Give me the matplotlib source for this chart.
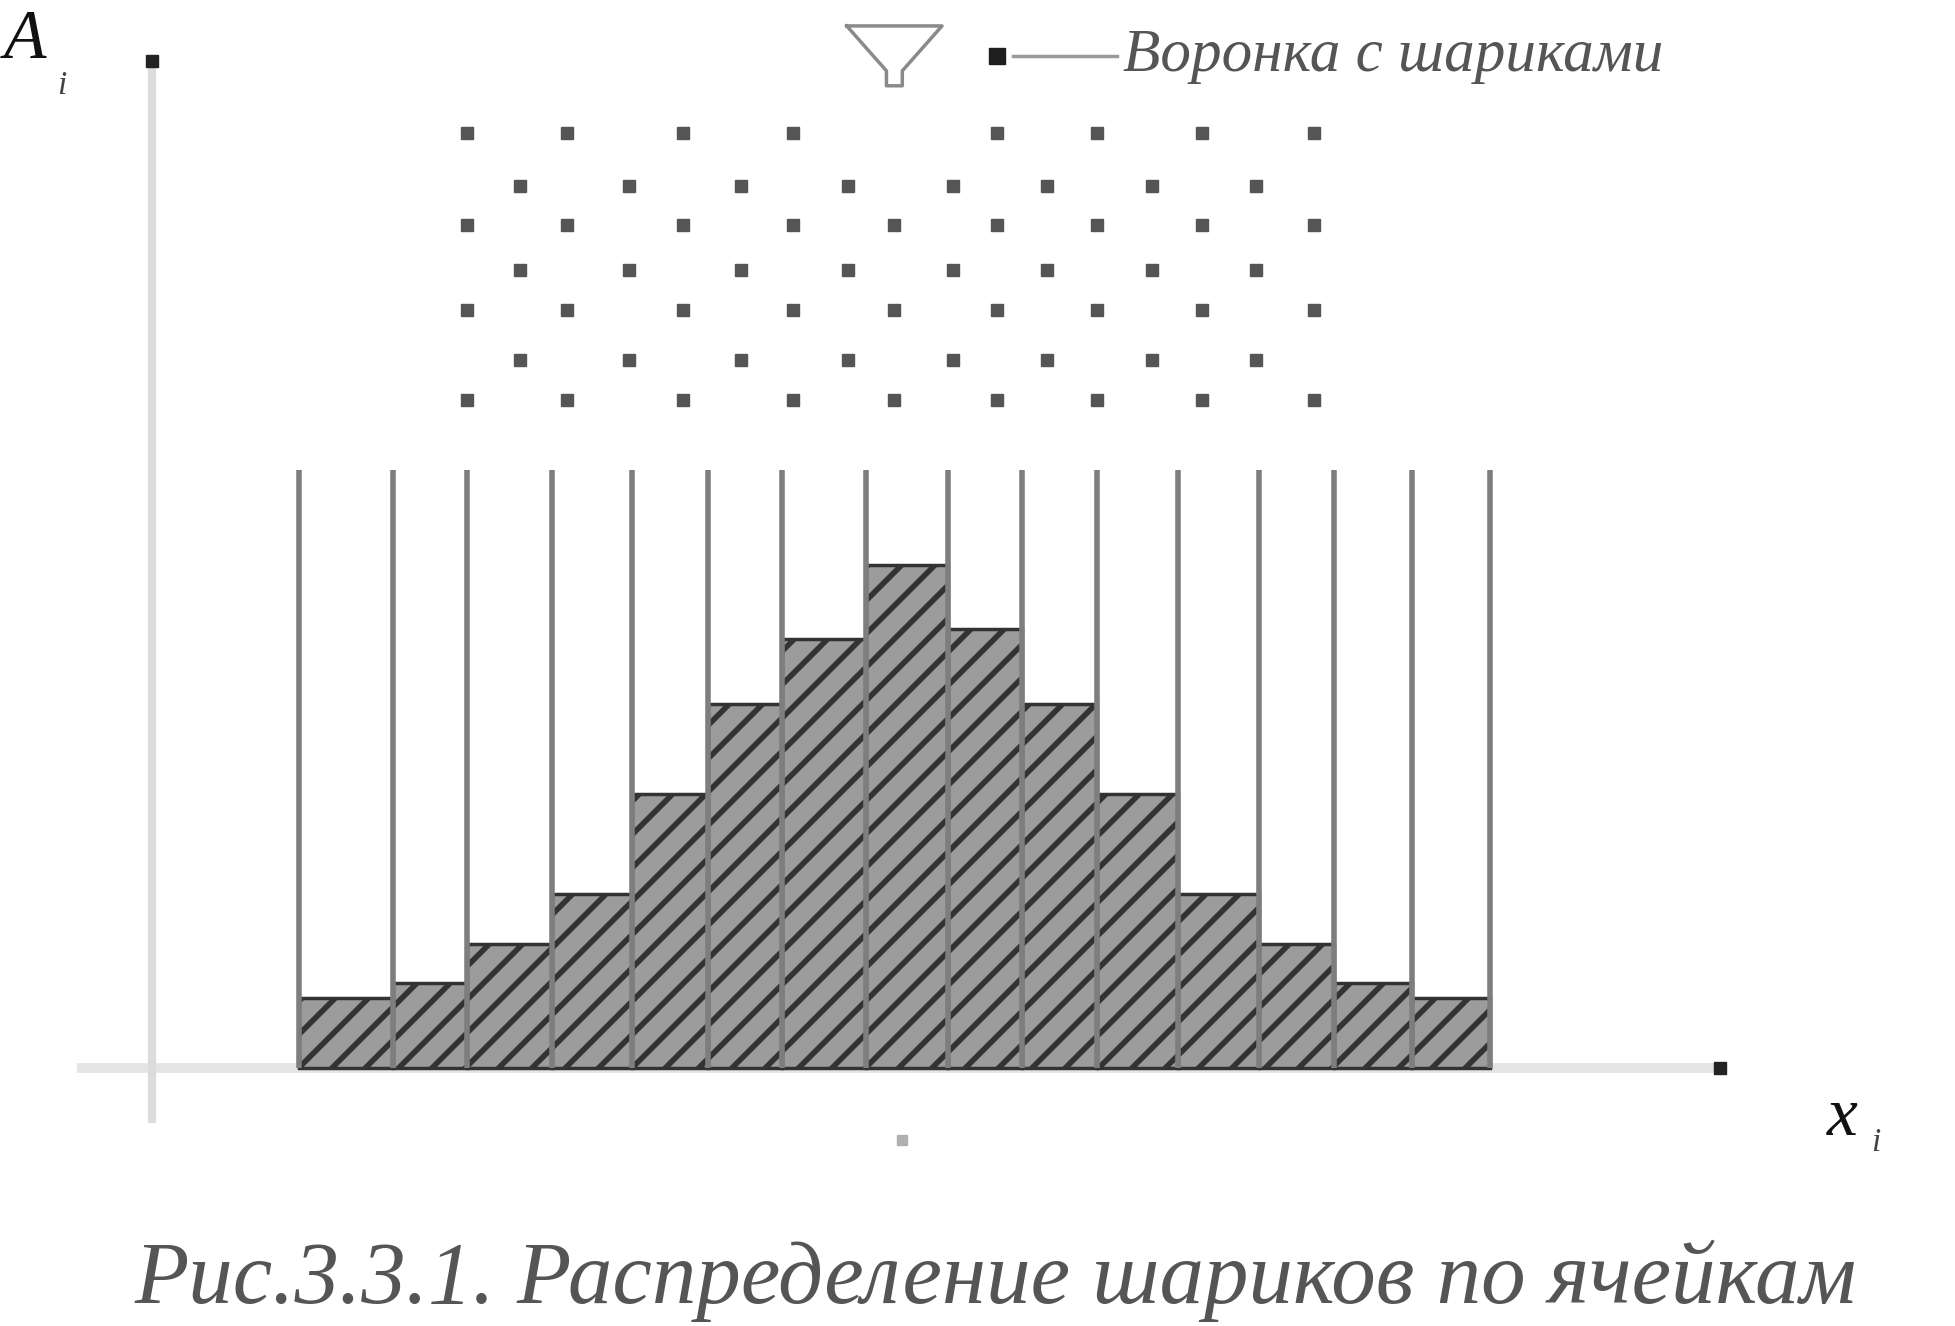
import numpy as np
import matplotlib
matplotlib.use("Agg")
from matplotlib import pyplot as plt

# bin walls (x positions) and ball counts per bin
edges = [0.0, 1.18, 2.12, 3.19, 4.19, 5.15, 6.09, 7.14, 8.17, 9.11, 10.05, 11.07, 12.09, 13.04, 14.02, 15.0]
counts = [14, 17, 25, 35, 55, 73, 86, 101, 88, 73, 55, 35, 25, 17, 14]
wall_height = 120

# peg rows (top to bottom)
peg_rows_y = [187.5, 177, 169, 160, 152, 142, 134]
peg_rows_x = [
    [2.12, 3.38, 4.84, 6.22, 8.79, 10.05, 11.38, 12.79],
    [2.79, 4.16, 5.57, 6.91, 8.24, 9.42, 10.75, 12.06],
    [2.12, 3.38, 4.84, 6.22, 7.50, 8.79, 10.05, 11.38, 12.79],
    [2.79, 4.16, 5.57, 6.91, 8.24, 9.42, 10.75, 12.06],
    [2.12, 3.38, 4.84, 6.22, 7.50, 8.79, 10.05, 11.38, 12.79],
    [2.79, 4.16, 5.57, 6.91, 8.24, 9.42, 10.75, 12.06],
    [2.12, 3.38, 4.84, 6.22, 7.50, 8.79, 10.05, 11.38, 12.79],
]

funnel_x = [6.9, 8.1, 7.6, 7.6, 7.4, 7.4, 6.9]
funnel_y = [209, 209, 200, 197, 197, 200, 209]
ball_xy = (8.79, 203)
label_text = "Воронка с шариками"
caption = "Рис.3.3.1. Распределение шариков по ячейкам"
ylabel = "A"
xlabel = "x"

plt.rcParams['hatch.linewidth'] = 4.0
plt.rcParams['hatch.color'] = '#3c3c3c'

fig = plt.figure(figsize=(19.55, 13.26), dpi=100)
ax = fig.add_axes([0, 0, 1, 1])
ax.set_xlim(-3.766, 20.86)
ax.set_ylim(-51.7, 214.2)
ax.axis('off')

# axes lines
ax.plot([-2.8, 17.9], [0, 0], color='#e4e4e4', lw=7, zorder=1, solid_capstyle='butt')
ax.plot([-1.85, -1.85], [-11, 202], color='#dcdcdc', lw=6, zorder=1, solid_capstyle='butt')
ax.plot([17.9], [0], marker='s', color='#222222', ms=9, zorder=4)
ax.plot([-1.85], [202], marker='s', color='#222222', ms=9, zorder=4)
ax.plot([7.6], [-14.5], marker='s', color='#b0b0b0', ms=7, zorder=4)

# bins
lefts = np.array(edges[:-1])
widths = np.diff(edges)
ax.bar(lefts, counts, width=widths, align='edge', facecolor='#9c9c9c',
       edgecolor='#333333', hatch='/', linewidth=2.5, zorder=2)

# walls
for e in edges:
    ax.plot([e, e], [0, wall_height], color='#7e7e7e', lw=4, zorder=3, solid_capstyle='butt')

# pegs
for y, xs in zip(peg_rows_y, peg_rows_x):
    ax.plot(xs, [y] * len(xs), linestyle='', marker='s', color='#555555', ms=9, zorder=3)

# funnel and ball label
ax.plot(funnel_x, funnel_y, color='#8a8a8a', lw=2.5, zorder=3)
ax.plot([ball_xy[0]], [ball_xy[1]], marker='s', color='#1e1e1e', ms=11, zorder=4)
ax.plot([9.0, 10.3], [ball_xy[1], ball_xy[1]], color='#999999', lw=2.5, zorder=3)
ax.text(10.38, ball_xy[1], label_text, fontsize=44, fontstyle='italic',
        family='Liberation Serif', color='#555555', va='center', ha='left')

# axis labels
ax.text(-3.72, 206, ylabel, fontsize=50, fontstyle='italic', family='Liberation Serif',
        color='#111111', va='center', ha='left')
ax.text(-3.05, 197, 'i', fontsize=24, fontstyle='italic', family='Liberation Serif',
        color='#444444', va='center', ha='left')
ax.text(19.25, -10, xlabel, fontsize=50, fontstyle='italic', family='Liberation Serif',
        color='#111111', va='center', ha='left')
ax.text(19.8, -15, 'i', fontsize=24, fontstyle='italic', family='Liberation Serif',
        color='#444444', va='center', ha='left')

# caption
fig.text(0.069, 0.034, caption, fontsize=64, fontstyle='italic', family='Liberation Serif',
         color='#555555', va='center', ha='left')

fig.savefig('out.png', dpi=100)
